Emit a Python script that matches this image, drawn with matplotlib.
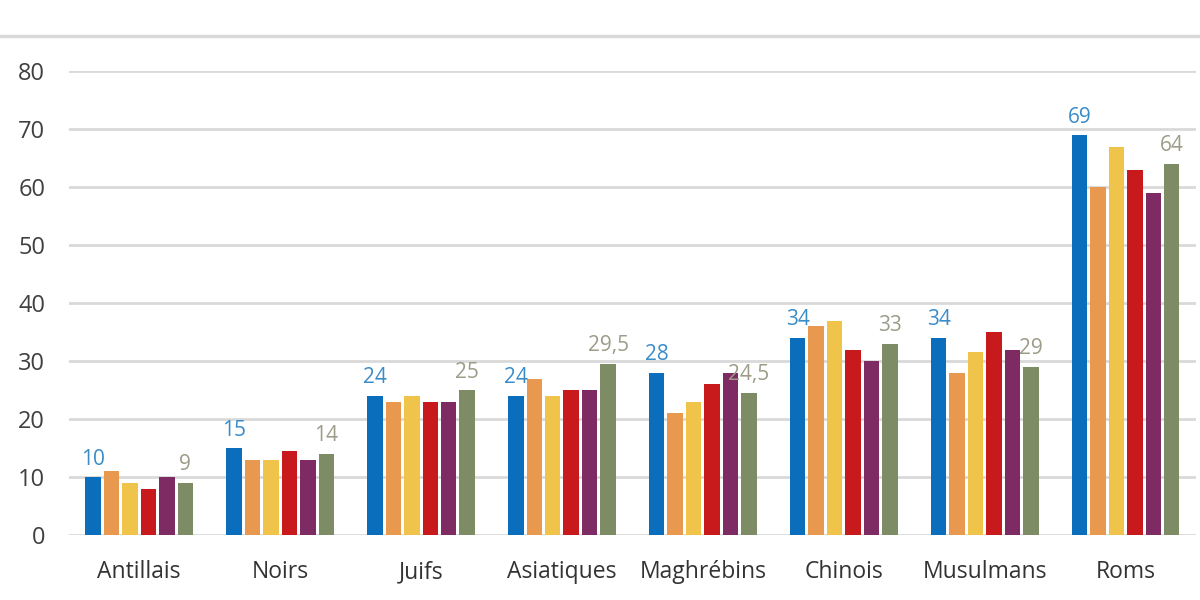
import matplotlib
matplotlib.use("Agg")
import matplotlib.pyplot as plt
import numpy as np

categories = ["Antillais", "Noirs", "Juifs", "Asiatiques", "Maghrébins", "Chinois", "Musulmans", "Roms"]
s1 = [10, 15, 24, 24, 28, 34, 34, 69]
s2 = [11, 13, 23, 27, 21, 36, 28, 60]
s3 = [9, 13, 24, 24, 23, 37, 31.5, 67]
s4 = [8, 14.5, 23, 25, 26, 32, 35, 63]
s5 = [10, 13, 23, 25, 28, 30, 32, 59]
s6 = [9, 14, 25, 29.5, 24.5, 33, 29, 64]
first_labels = ["10", "15", "24", "24", "28", "34", "34", "69"]
last_labels = ["9", "14", "25", "29,5", "24,5", "33", "29", "64"]
yticks = [0, 10, 20, 30, 40, 50, 60, 70, 80]

series = [s1, s2, s3, s4, s5, s6]
colors = ["#0A6EBD", "#E8994F", "#F0C34A", "#C8191D", "#7D2B62", "#7E8C65"]

plt.rcParams['font.family'] = ['Open Sans', 'DejaVu Sans']

fig = plt.figure(figsize=(12, 6), dpi=100)
ax = fig.add_axes([0.0573, 0.1083, 0.9394, 0.7729])

x = np.arange(len(categories))
step = 0.131
width = 0.11
for i, (s, c) in enumerate(zip(series, colors)):
    offs = (i - 2.5) * step
    ax.bar(x + offs, s, width=width, color=c, zorder=3)

for xi, v, lab in zip(x, s1, first_labels):
    ax.text(xi - 2.5 * step, v + 1.3, lab, ha='center', va='bottom', fontsize=15, color='#3A8CC8')
for xi, v, lab in zip(x, s6, last_labels):
    ax.text(xi + 2.5 * step, v + 1.3, lab, ha='center', va='bottom', fontsize=15, color='#9C9C88')

ax.set_xlim(-0.5, len(categories) - 0.5)
ax.set_ylim(0, 80)
ax.set_yticks(yticks)
ax.set_xticks(x)
ax.set_xticklabels(categories, fontsize=16.5, color='#333333')
ax.tick_params(axis='y', labelsize=17, labelcolor='#404040', length=0, pad=17)
ax.tick_params(axis='x', length=0, pad=18)
ax.grid(axis='y', color='#D9D9D9', linewidth=2, zorder=0)
for sp in ax.spines.values():
    sp.set_visible(False)

fig.add_artist(plt.Line2D([0, 1], [1 - 36 / 600, 1 - 36 / 600], transform=fig.transFigure,
                          color='#D9D9D9', linewidth=2.5))

fig.savefig("out.png", dpi=100, facecolor='white')
